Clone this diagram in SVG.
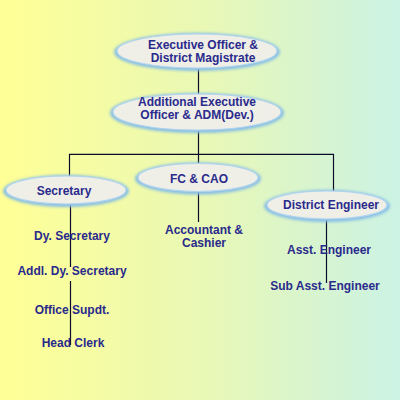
<svg xmlns="http://www.w3.org/2000/svg" width="400" height="400" viewBox="0 0 400 400">
<defs>
<linearGradient id="bg" x1="0" y1="0" x2="1" y2="0">
<stop offset="0" stop-color="#ffff96"/>
<stop offset="0.5" stop-color="#e9f8b4"/>
<stop offset="1" stop-color="#cbf2e4"/>
</linearGradient>
<filter id="glow" x="-20%" y="-40%" width="140%" height="180%">
<feGaussianBlur stdDeviation="1.6"/>
</filter>
<style>
.halo{fill:#86bde6;filter:url(#glow)}
.ell{fill:#efefe7;stroke:#b0d4ee;stroke-width:1.2}
.t{font-family:"Liberation Sans",Arial,sans-serif;font-weight:bold;font-size:12px;fill:#2a2a8c;text-anchor:middle}
.ln{stroke:#0a0a2a;stroke-width:1.2;fill:none}
</style>
</defs>
<rect x="0" y="0" width="400" height="400" fill="url(#bg)"/>
<g id="connectors">
<line class="ln" x1="198.5" y1="69" x2="198.5" y2="94"/>
<line class="ln" x1="198.5" y1="131" x2="198.5" y2="154"/>
<polyline class="ln" points="69.5,177 69.5,154.3 333.5,154.3 333.5,191"/>
<line class="ln" x1="198.5" y1="154" x2="198.5" y2="163"/>
<line class="ln" x1="70.5" y1="204" x2="70.5" y2="267"/>
<line class="ln" x1="70.5" y1="281" x2="70.5" y2="345"/>
<line class="ln" x1="198.5" y1="192" x2="198.5" y2="222"/>
<line class="ln" x1="326.5" y1="219" x2="326.5" y2="283"/>
</g>
<g id="n1">
<ellipse class="halo" cx="197" cy="52" rx="83" ry="19"/>
<ellipse class="ell" cx="197" cy="51" rx="80" ry="17"/>
<text class="t" x="203" y="49">Executive Officer &amp;</text>
<text class="t" x="203" y="62">District Magistrate</text>
</g>
<g id="n2">
<ellipse class="halo" cx="197" cy="113" rx="87" ry="20"/>
<ellipse class="ell" cx="197" cy="112" rx="84" ry="18"/>
<text class="t" x="197" y="106">Additional Executive</text>
<text class="t" x="197" y="119">Officer &amp; ADM(Dev.)</text>
</g>
<g id="n3">
<ellipse class="halo" cx="66" cy="191" rx="63" ry="16"/>
<ellipse class="ell" cx="66" cy="190" rx="60" ry="14"/>
<text class="t" x="64" y="195">Secretary</text>
</g>
<g id="n4">
<ellipse class="halo" cx="198" cy="178.5" rx="63" ry="16"/>
<ellipse class="ell" cx="198" cy="177.5" rx="60" ry="14"/>
<text class="t" x="199" y="183">FC &amp; CAO</text>
</g>
<g id="n5">
<ellipse class="halo" cx="327" cy="206" rx="63" ry="16"/>
<ellipse class="ell" cx="327" cy="205" rx="60" ry="14"/>
<text class="t" x="331" y="209">District Engineer</text>
</g>
<g id="n6"><text class="t" x="72" y="240">Dy. Secretary</text></g>
<g id="n7"><text class="t" x="72" y="275">Addl. Dy. Secretary</text></g>
<g id="n8"><text class="t" x="72" y="314">Office Supdt.</text></g>
<g id="n9"><text class="t" x="73" y="347">Head Clerk</text></g>
<g id="n10">
<text class="t" x="204" y="234">Accountant &amp;</text>
<text class="t" x="204" y="247">Cashier</text>
</g>
<g id="n11"><text class="t" x="329" y="254">Asst. Engineer</text></g>
<g id="n12"><text class="t" x="325" y="290">Sub Asst. Engineer</text></g>
</svg>
